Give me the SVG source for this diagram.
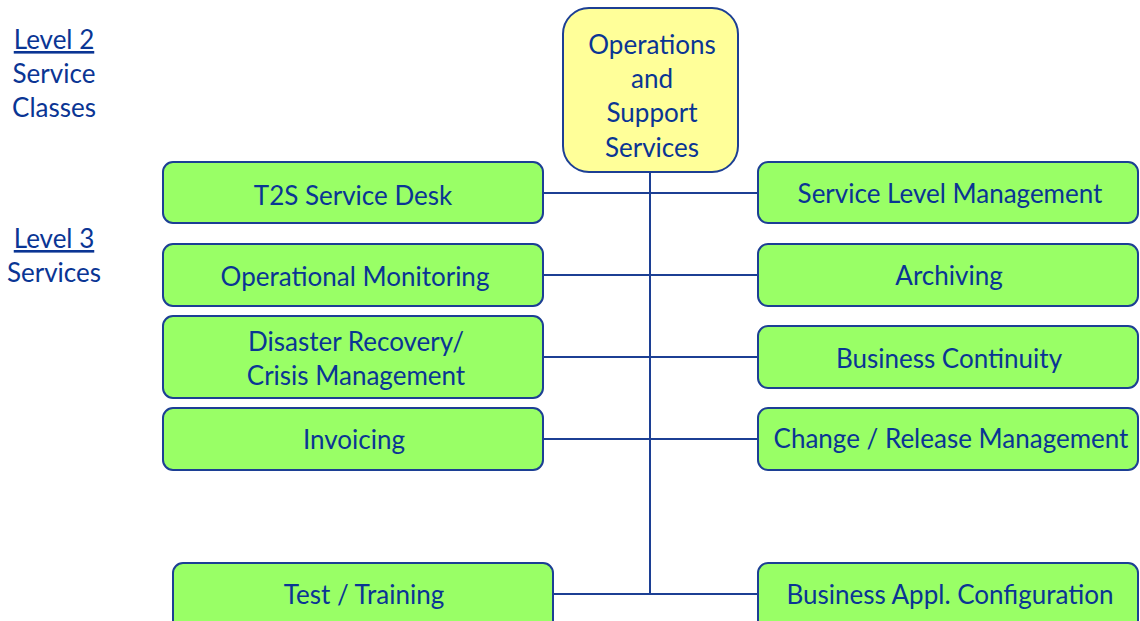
<svg xmlns="http://www.w3.org/2000/svg" width="1140" height="621" viewBox="0 0 1140 621">
<style>
  .box { fill: #99ff66; stroke: #1c3f94; stroke-width: 2; }
  .top { fill: #ffff99; stroke: #1c3f94; stroke-width: 2; }
  .t { font-family: Lato, "Open Sans", sans-serif; font-size: 26px; fill: #0a3594; text-anchor: middle; }
  .lbl { font-family: Lato, "Open Sans", sans-serif; font-size: 26px; fill: #0a3594; text-anchor: middle; }
  .ln { stroke: #1c3f94; stroke-width: 2; fill: none; }
</style>
<rect width="1140" height="621" fill="#ffffff"/>

<g id="legend">
  <text class="lbl" x="54" y="49" text-decoration="underline">Level 2</text>
  <text class="lbl" x="54" y="83">Service</text>
  <text class="lbl" x="54" y="117">Classes</text>
  <text class="lbl" x="54" y="248" text-decoration="underline">Level 3</text>
  <text class="lbl" x="54" y="282">Services</text>
</g>

<g id="connectors">
  <line class="ln" x1="650" y1="172" x2="650" y2="594"/>
  <line class="ln" x1="543" y1="193" x2="758" y2="193"/>
  <line class="ln" x1="543" y1="275" x2="758" y2="275"/>
  <line class="ln" x1="543" y1="357" x2="758" y2="357"/>
  <line class="ln" x1="543" y1="439" x2="758" y2="439"/>
  <line class="ln" x1="553" y1="594" x2="758" y2="594"/>
</g>

<g id="n-root">
  <rect class="top" x="563" y="8" width="175" height="164" rx="26" ry="26"/>
  <text class="t" x="652" y="54">Operations</text>
  <text class="t" x="652" y="88">and</text>
  <text class="t" x="652" y="122">Support</text>
  <text class="t" x="652" y="157">Services</text>
</g>

<g id="n-servicedesk">
  <rect class="box" x="163" y="162" width="380" height="61" rx="10" ry="10"/>
  <text class="t" x="353" y="205">T2S Service Desk</text>
</g>
<g id="n-opmon">
  <rect class="box" x="163" y="244" width="380" height="62" rx="10" ry="10"/>
  <text class="t" x="355" y="286">Operational Monitoring</text>
</g>
<g id="n-disaster">
  <rect class="box" x="163" y="316" width="380" height="82" rx="10" ry="10"/>
  <text class="t" x="356" y="351">Disaster Recovery/</text>
  <text class="t" x="356" y="385">Crisis Management</text>
</g>
<g id="n-invoicing">
  <rect class="box" x="163" y="408" width="380" height="62" rx="10" ry="10"/>
  <text class="t" x="354" y="449">Invoicing</text>
</g>
<g id="n-test">
  <rect class="box" x="173" y="563" width="380" height="70" rx="10" ry="10"/>
  <text class="t" x="364" y="604">Test / Training</text>
</g>

<g id="n-slm">
  <rect class="box" x="758" y="162" width="380" height="61" rx="10" ry="10"/>
  <text class="t" x="950" y="203">Service Level Management</text>
</g>
<g id="n-archiving">
  <rect class="box" x="758" y="244" width="380" height="62" rx="10" ry="10"/>
  <text class="t" x="949" y="285">Archiving</text>
</g>
<g id="n-bc">
  <rect class="box" x="758" y="326" width="380" height="62" rx="10" ry="10"/>
  <text class="t" x="949" y="368">Business Continuity</text>
</g>
<g id="n-change">
  <rect class="box" x="758" y="408" width="380" height="62" rx="10" ry="10"/>
  <text class="t" x="951" y="448">Change / Release Management</text>
</g>
<g id="n-bac">
  <rect class="box" x="758" y="563" width="380" height="70" rx="10" ry="10"/>
  <text class="t" x="950" y="604">Business Appl. Configuration</text>
</g>
</svg>
